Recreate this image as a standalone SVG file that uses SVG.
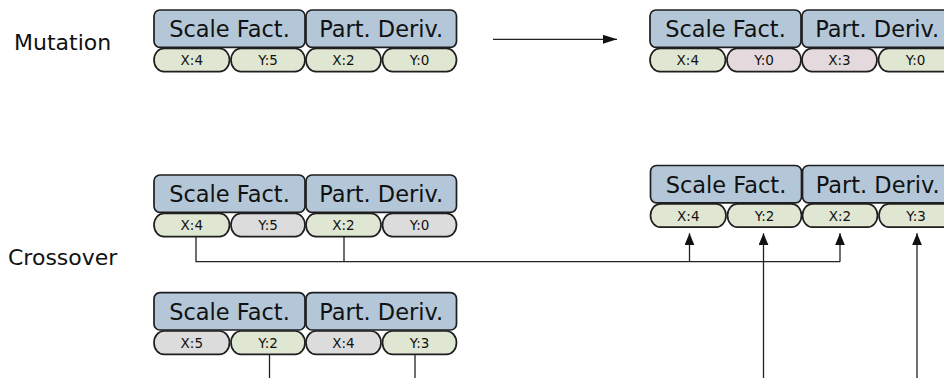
<svg xmlns="http://www.w3.org/2000/svg" width="944" height="378" viewBox="0 0 944 378">
<defs>
<style>
.lbl{font-family:"DejaVu Sans",sans-serif;font-size:22px;fill:#111}
.box{fill:#b3c7d9;stroke:#1e1e1e;stroke-width:1.7}
.bt{font-family:"DejaVu Sans",sans-serif;font-size:22.5px;fill:#111;text-anchor:middle}
.pt{font-family:"DejaVu Sans",sans-serif;font-size:13.5px;fill:#111;text-anchor:middle}
.g{fill:#dfe6d2;stroke:#1e1e1e;stroke-width:1.7}
.r{fill:#e4d9dd;stroke:#1e1e1e;stroke-width:1.7}
.n{fill:#dcdcdc;stroke:#1e1e1e;stroke-width:1.7}
.ln{fill:none;stroke:#222;stroke-width:1.3}
</style>
<marker id="ah" markerWidth="12" markerHeight="10" refX="12" refY="5" orient="auto" markerUnits="userSpaceOnUse"><path d="M0,0 L12,5 L0,10 z" fill="#111"/></marker>
<marker id="ah2" markerWidth="14" markerHeight="9" refX="14" refY="4.5" orient="auto" markerUnits="userSpaceOnUse"><path d="M0,0 L14,4.5 L0,9 z" fill="#111"/></marker>
</defs>
<rect width="944" height="378" fill="#fff"/>
<text class="lbl" x="14" y="49.5">Mutation</text>
<text class="lbl" x="8" y="265">Crossover</text>

<g id="mut-before" transform="translate(154,10)">
<rect class="box" x="0" y="0" width="151" height="37.3" rx="6"/>
<rect class="box" x="152" y="0" width="150.5" height="37.3" rx="6"/>
<text class="bt" x="75.5" y="27">Scale Fact.</text>
<text class="bt" x="227.2" y="27">Part. Deriv.</text>
<rect class="g" x="0" y="38.3" width="75.5" height="23.4" rx="10" ry="11.7"/>
<rect class="g" x="77" y="38.3" width="74" height="23.4" rx="10" ry="11.7"/>
<rect class="g" x="152" y="38.3" width="75" height="23.4" rx="10" ry="11.7"/>
<rect class="g" x="228.5" y="38.3" width="74" height="23.4" rx="10" ry="11.7"/>
<text class="pt" x="37.8" y="55">X:4</text>
<text class="pt" x="114" y="55">Y:5</text>
<text class="pt" x="189.5" y="55">X:2</text>
<text class="pt" x="265.5" y="55">Y:0</text>
</g>

<g id="mut-after" transform="translate(650,10)">
<rect class="box" x="0" y="0" width="151" height="37.3" rx="6"/>
<rect class="box" x="152" y="0" width="150.5" height="37.3" rx="6"/>
<text class="bt" x="75.5" y="27">Scale Fact.</text>
<text class="bt" x="227.2" y="27">Part. Deriv.</text>
<rect class="g" x="0" y="38.3" width="75.5" height="23.4" rx="10" ry="11.7"/>
<rect class="r" x="77" y="38.3" width="74" height="23.4" rx="10" ry="11.7"/>
<rect class="r" x="152" y="38.3" width="75" height="23.4" rx="10" ry="11.7"/>
<rect class="g" x="228.5" y="38.3" width="74" height="23.4" rx="10" ry="11.7"/>
<text class="pt" x="37.8" y="55">X:4</text>
<text class="pt" x="114" y="55">Y:0</text>
<text class="pt" x="189.5" y="55">X:3</text>
<text class="pt" x="265.5" y="55">Y:0</text>
</g>

<g id="parent-a" transform="translate(154,175)">
<rect class="box" x="0" y="0" width="151" height="37.3" rx="6"/>
<rect class="box" x="152" y="0" width="150.5" height="37.3" rx="6"/>
<text class="bt" x="75.5" y="27">Scale Fact.</text>
<text class="bt" x="227.2" y="27">Part. Deriv.</text>
<rect class="g" x="0" y="38.3" width="75.5" height="23.4" rx="10" ry="11.7"/>
<rect class="n" x="77" y="38.3" width="74" height="23.4" rx="10" ry="11.7"/>
<rect class="g" x="152" y="38.3" width="75" height="23.4" rx="10" ry="11.7"/>
<rect class="n" x="228.5" y="38.3" width="74" height="23.4" rx="10" ry="11.7"/>
<text class="pt" x="37.8" y="55">X:4</text>
<text class="pt" x="114" y="55">Y:5</text>
<text class="pt" x="189.5" y="55">X:2</text>
<text class="pt" x="265.5" y="55">Y:0</text>
</g>

<g id="child" transform="translate(650.5,165.5)">
<rect class="box" x="0" y="0" width="151" height="37.3" rx="6"/>
<rect class="box" x="152" y="0" width="150.5" height="37.3" rx="6"/>
<text class="bt" x="75.5" y="27">Scale Fact.</text>
<text class="bt" x="227.2" y="27">Part. Deriv.</text>
<rect class="g" x="0" y="38.3" width="75.5" height="23.4" rx="10" ry="11.7"/>
<rect class="g" x="77" y="38.3" width="74" height="23.4" rx="10" ry="11.7"/>
<rect class="g" x="152" y="38.3" width="75" height="23.4" rx="10" ry="11.7"/>
<rect class="g" x="228.5" y="38.3" width="74" height="23.4" rx="10" ry="11.7"/>
<text class="pt" x="37.8" y="55">X:4</text>
<text class="pt" x="114" y="55">Y:2</text>
<text class="pt" x="189.5" y="55">X:2</text>
<text class="pt" x="265.5" y="55">Y:3</text>
</g>

<g id="parent-b" transform="translate(154,292.7)">
<rect class="box" x="0" y="0" width="151" height="37.3" rx="6"/>
<rect class="box" x="152" y="0" width="150.5" height="37.3" rx="6"/>
<text class="bt" x="75.5" y="27">Scale Fact.</text>
<text class="bt" x="227.2" y="27">Part. Deriv.</text>
<rect class="n" x="0" y="38.3" width="75.5" height="23.4" rx="10" ry="11.7"/>
<rect class="g" x="77" y="38.3" width="74" height="23.4" rx="10" ry="11.7"/>
<rect class="n" x="152" y="38.3" width="75" height="23.4" rx="10" ry="11.7"/>
<rect class="g" x="228.5" y="38.3" width="74" height="23.4" rx="10" ry="11.7"/>
<text class="pt" x="37.8" y="55">X:5</text>
<text class="pt" x="114" y="55">Y:2</text>
<text class="pt" x="189.5" y="55">X:4</text>
<text class="pt" x="265.5" y="55">Y:3</text>
</g>

<g id="connectors">
<line class="ln" x1="493" y1="39.3" x2="617" y2="39.3" marker-end="url(#ah2)"/>
<path class="ln" d="M196,236.5 V261.7 H840 M344,236.5 V261.7"/>
<line class="ln" x1="689.5" y1="261.7" x2="689.5" y2="233.3" marker-end="url(#ah)"/>
<line class="ln" x1="840" y1="261.7" x2="840" y2="233.3" marker-end="url(#ah)"/>
<line class="ln" x1="269.5" y1="354.5" x2="269.5" y2="378"/>
<line class="ln" x1="415" y1="354.5" x2="415" y2="378"/>
<line class="ln" x1="763.5" y1="378" x2="763.5" y2="233.3" marker-end="url(#ah)"/>
<line class="ln" x1="917" y1="378" x2="917" y2="233.3" marker-end="url(#ah)"/>
</g>
</svg>
